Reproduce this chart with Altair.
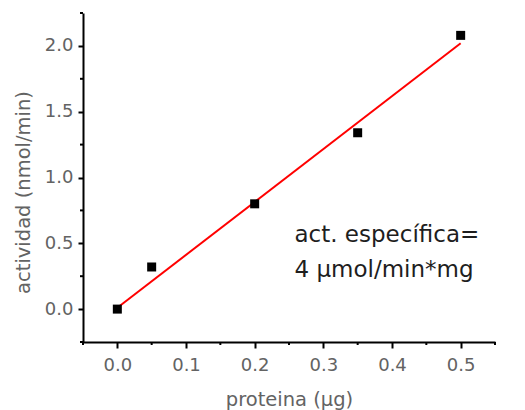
import altair as alt
import pandas as pd

# measured points
proteina = [0.0, 0.05, 0.2, 0.35, 0.5]
actividad = [0.0, 0.32, 0.80, 1.34, 2.08]

# fitted red line (endpoints)
fit_x = [0.0, 0.5]
fit_y = [0.01, 2.02]

x_major = [0.0, 0.1, 0.2, 0.3, 0.4, 0.5]
x_minor = [-0.05, 0.05, 0.15, 0.25, 0.35, 0.45, 0.55]
y_major = [0.0, 0.5, 1.0, 1.5, 2.0]
y_minor = [-0.25, 0.25, 0.75, 1.25, 1.75, 2.25]

note_lines = ["act. específica=", "4 µmol/min*mg"]
note_x = [0.258, 0.258]
note_y = [0.51, 0.245]

W, H = 412, 329

pts = pd.DataFrame({"x": proteina, "y": actividad})
fit = pd.DataFrame({"x": fit_x, "y": fit_y})
note = pd.DataFrame({"x": note_x, "y": note_y, "t": note_lines})

xs = alt.Scale(domain=[-0.05, 0.55], nice=False, zero=False)
ys = alt.Scale(domain=[-0.25, 2.25], nice=False, zero=False)

LABEL = "#636363"
FONT = "DejaVu Sans"

x_axis = alt.Axis(values=x_major, format=".1f", title="proteina (µg)",
                  grid=False, domainColor="black", domainWidth=2,
                  tickColor="black", tickWidth=2, tickSize=6,
                  labelFont=FONT, labelFontSize=18, labelColor=LABEL, labelPadding=8,
                  titleFont=FONT, titleFontSize=19.5, titleColor=LABEL,
                  titleFontWeight="normal", titleBaseline="alphabetic", titleY=63)
y_axis = alt.Axis(values=y_major, format=".1f", title="actividad (nmol/min)",
                  grid=False, domainColor="black", domainWidth=2,
                  tickColor="black", tickWidth=2, tickSize=5,
                  labelFont=FONT, labelFontSize=18, labelColor=LABEL, labelPadding=5,
                  titleFont=FONT, titleFontSize=19.5, titleColor=LABEL,
                  titleFontWeight="normal", titleBaseline="bottom", titleX=-50, titleY=179)

points = alt.Chart(pts).mark_square(size=81, color="black", opacity=1, filled=True).encode(
    x=alt.X("x:Q", scale=xs, axis=x_axis),
    y=alt.Y("y:Q", scale=ys, axis=y_axis),
)

line = alt.Chart(fit).mark_line(color="#ff0000", strokeWidth=2).encode(
    x=alt.X("x:Q", scale=xs, axis=x_axis),
    y=alt.Y("y:Q", scale=ys, axis=y_axis),
)

minor_x = alt.Chart(pd.DataFrame({"x": x_minor})).mark_rule(color="black", strokeWidth=2).encode(
    x=alt.X("x:Q", scale=xs, axis=x_axis),
    y=alt.value(H),
    y2=alt.value(H + 3),
)
minor_y = alt.Chart(pd.DataFrame({"y": y_minor})).mark_rule(color="black", strokeWidth=2).encode(
    y=alt.Y("y:Q", scale=ys, axis=y_axis),
    x=alt.value(-3),
    x2=alt.value(0),
)

text = alt.Chart(note).mark_text(align="left", baseline="alphabetic", font=FONT,
                                 fontSize=23, color="#1e1e1e").encode(
    x=alt.X("x:Q", scale=xs, axis=x_axis),
    y=alt.Y("y:Q", scale=ys, axis=y_axis),
    text="t:N",
)

chart = alt.layer(line, points, text, minor_x, minor_y).properties(
    width=W, height=H,
    autosize=alt.AutoSizeParams(type="none"),
    padding={"left": 75, "top": 5, "right": 22, "bottom": 68},
).configure_view(stroke=None)

chart.save("out.html", embed_options={"renderer": "svg", "actions": False})
